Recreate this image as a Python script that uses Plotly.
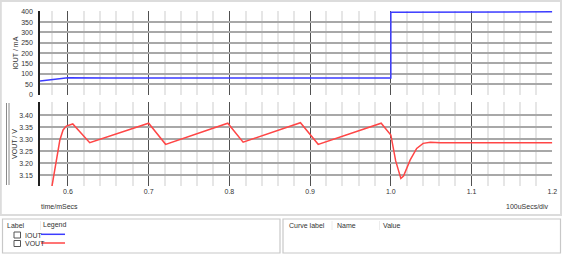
import plotly.graph_objects as go

W, H = 566, 265

# ---- data ----
iout_t = [0.5654, 0.600, 0.650, 0.700, 0.750, 0.800, 0.850, 0.900, 0.950, 1.000, 1.000, 1.010, 1.030, 1.200]
iout_ma = [65, 80, 79, 80, 79, 79, 79, 80, 79, 79, 398, 398, 400, 400]

vout_t = [0.580, 0.586, 0.590, 0.594, 0.598, 0.606, 0.627, 0.700, 0.721, 0.798, 0.817,
          0.888, 0.910, 0.988, 1.000, 1.006, 1.0107, 1.0124, 1.0157, 1.024, 1.032, 1.040,
          1.049, 1.061, 1.200]
vout_v = [3.100, 3.230, 3.297, 3.339, 3.355, 3.364, 3.286, 3.367, 3.279, 3.367, 3.288,
          3.369, 3.279, 3.367, 3.318, 3.210, 3.150, 3.137, 3.147, 3.214, 3.262, 3.283,
          3.288, 3.286, 3.286]

iout_ticks = [0, 50, 100, 150, 200, 250, 300, 350, 400]
vout_ticks = [3.15, 3.20, 3.25, 3.30, 3.35, 3.40]

FONT = "Liberation Sans"
TXT = "#333333"


def px(x):
    return x / W


def py(y):
    return 1 - y / H


fig = go.Figure()
fig.add_trace(go.Scatter(x=iout_t, y=iout_ma, mode="lines", xaxis="x2", yaxis="y",
                         line=dict(color="#3c3cff", width=1.5), showlegend=False))
fig.add_trace(go.Scatter(x=vout_t, y=vout_v, mode="lines", xaxis="x", yaxis="y2",
                         line=dict(color="#ff4646", width=1.5), showlegend=False))

xdom = [px(40), px(552.3)]
xcommon = dict(domain=xdom, range=[0.5654, 1.2], tick0=0.6, dtick=0.1,
               showgrid=True, gridcolor="#505050", gridwidth=1,
               minor=dict(tick0=0.6, dtick=0.02, showgrid=True, gridcolor="#e6e6e6", gridwidth=1.5),
               zeroline=False, showline=False, ticks="", automargin=False,
               tickfont=dict(family=FONT, size=7, color=TXT))

fig.update_layout(
    width=W, height=H, margin=dict(l=0, r=0, t=0, b=0),
    paper_bgcolor="white", plot_bgcolor="white",
    font=dict(family=FONT, size=7, color=TXT),
    xaxis=dict(**xcommon, anchor="y2", tickformat=".1f", ticklabelstandoff=0),
    xaxis2=dict(**xcommon, anchor="y", matches="x", showticklabels=False),
    yaxis=dict(domain=[py(95.2), py(11.0)], range=[-4, 404], anchor="x2",
               tickvals=iout_ticks, showgrid=True, gridcolor="#a8a8a8", gridwidth=2,
               zeroline=False, showline=True, linecolor="#202020", linewidth=1.5,
               ticks="", ticklabelstandoff=4, automargin=False,
               tickfont=dict(family=FONT, size=7, color=TXT),
               title=dict(text="IOUT / mA", standoff=2, font=dict(family=FONT, size=7, color=TXT))),
    yaxis2=dict(domain=[py(186), py(102)], range=[3.1054, 3.4554], anchor="x",
                tickvals=vout_ticks, tickformat=".2f", showgrid=True, gridcolor="#a8a8a8", gridwidth=2,
                zeroline=False, showline=True, linecolor="#202020", linewidth=1.5,
                ticks="", ticklabelstandoff=4, automargin=False,
                tickfont=dict(family=FONT, size=7, color=TXT),
                title=dict(text="VOUT / V", standoff=1, font=dict(family=FONT, size=7, color=TXT))),
)

shapes = []
# outer chart panel frame
shapes.append(dict(type="rect", xref="paper", yref="paper", x0=px(0.8), x1=px(561), y0=py(215), y1=py(1),
                   line=dict(color="#dcdcdc", width=2), layer="below"))
# splitter marks on the lower panel
for xx in (6.5, 9):
    shapes.append(dict(type="line", xref="paper", yref="paper", x0=px(xx), x1=px(xx), y0=py(185), y1=py(103),
                       line=dict(color="#8a8a8a", width=1)))
# legend boxes
shapes.append(dict(type="rect", xref="paper", yref="paper", x0=px(2.5), x1=px(280), y0=py(253), y1=py(219),
                   line=dict(color="#c8c8c8", width=1.2)))
shapes.append(dict(type="rect", xref="paper", yref="paper", x0=px(283), x1=px(560.5), y0=py(253), y1=py(219),
                   line=dict(color="#c8c8c8", width=1.2)))
# column separators
for xx in (40.5, 332, 379.5):
    shapes.append(dict(type="line", xref="paper", yref="paper", x0=px(xx), x1=px(xx), y0=py(230), y1=py(221),
                       line=dict(color="#ececec", width=1)))
# checkboxes
for yy in (232, 240.5):
    shapes.append(dict(type="rect", xref="paper", yref="paper", x0=px(14), x1=px(20.5), y0=py(yy + 6), y1=py(yy),
                       line=dict(color="#555555", width=1), fillcolor="white"))
# legend swatches
shapes.append(dict(type="line", xref="paper", yref="paper", x0=px(41), x1=px(65), y0=py(234.3), y1=py(234.3),
                   line=dict(color="#3c3cff", width=1.5)))
shapes.append(dict(type="line", xref="paper", yref="paper", x0=px(41), x1=px(65), y0=py(243), y1=py(243),
                   line=dict(color="#ff4646", width=1.5)))
fig.update_layout(shapes=shapes)

ann = []


def text(x, y, s, anchor="left"):
    ann.append(dict(xref="paper", yref="paper", x=px(x), y=py(y), text=s, showarrow=False,
                    xanchor=anchor, yanchor="middle", font=dict(family=FONT, size=7, color=TXT)))


text(39, 206, "time/mSecs")
text(551, 206, "100uSecs/div", "right")
text(4.5, 225, "Label")
text(41.5, 225, "Legend")
text(22.5, 235, "IOUT")
text(22.5, 243.5, "VOUT")
text(286.5, 225, "Curve label")
text(334.5, 225, "Name")
text(381, 225, "Value")
fig.update_layout(annotations=ann)

fig.write_html("out.html")
